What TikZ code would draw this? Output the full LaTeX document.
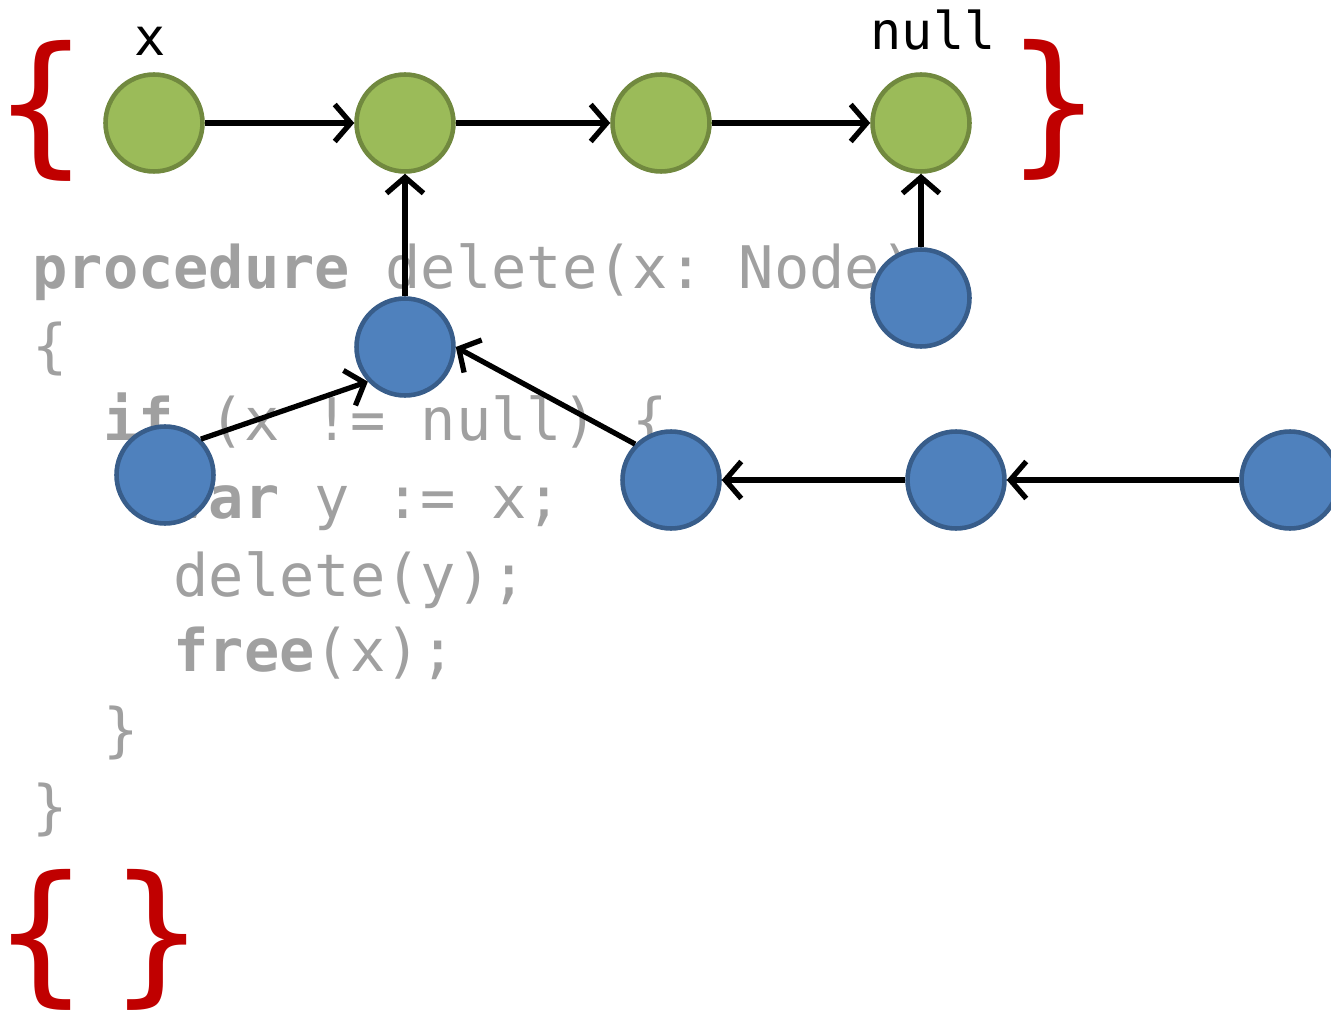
\documentclass[tikz,border=0pt]{standalone}
\usepackage{fontspec}
\setmonofont{DejaVu Sans Mono}
\newfontfamily\bracefont{DejaVu Sans}
\usetikzlibrary{arrows.meta}

\definecolor{codegray}{HTML}{A0A0A0}
\definecolor{bracered}{HTML}{C00000}
\definecolor{greenfill}{HTML}{9BBB59}
\definecolor{greenline}{HTML}{71893F}
\definecolor{bluefill}{HTML}{4F81BD}
\definecolor{blueline}{HTML}{385D8A}

\tikzset{
  codeline/.style={anchor=base west, inner sep=0, text=codegray,
    font=\ttfamily\fontsize{33.4}{40}\selectfont},
  label/.style={inner sep=0, anchor=base,
    font=\ttfamily\fontsize{29.5}{36}\selectfont},
  brace/.style={inner sep=0, text=bracered,
    font=\bracefont\fontsize{87}{95}\selectfont},
  gnode/.style={circle, draw=greenline, fill=greenfill, line width=2.6pt,
    minimum size=1.94cm, inner sep=0},
  bnode/.style={circle, draw=blueline, fill=bluefill, line width=2.6pt,
    minimum size=1.94cm, inner sep=0},
  link/.style={line width=3pt, -{Straight Barb[length=0.32cm,width=0.74cm]}}
}

\begin{document}
\begin{tikzpicture}[x=0.02cm, y=-0.02cm]
			\useasboundingbox (0,0) rectangle (1331,1013);
			
			% code in the background
			\node (l1) at (32,289) [codeline] {\textbf{procedure} delete(x: Node)};
			\node (l2) at (32,366) [codeline] {\{};
			\node (l3) at (32,440) [codeline] {\ \ \textbf{if} (x != null) \{};
			\node (l4) at (32,518) [codeline] {\ \ \ \ \textbf{var} y := x;};
			\node (l5) at (32,596) [codeline] {\ \ \ \ delete(y);};
			\node (l6) at (32,671) [codeline] {\ \ \ \ \textbf{free}(x);};
			\node (l7) at (32,750) [codeline] {\ \ \}};
			\node (l8) at (32,827) [codeline] {\}};
			
			% braces
			\node (bra1) at (41,111) [brace] {\{};
			\node (bra2) at (1054,110) [brace] {\}};
			\node (bra3) at (41,940) [brace] {\{};
			\node (bra4) at (157,940) [brace] {\}};
			
			% list in the braces
			\node (g1) at (154,123) [gnode] {};
			\node (g2) at (405,123) [gnode] {};
			\node (g3) at (661,123) [gnode] {};
			\node (g4) at (921,123) [gnode] {};
			\node (lx) at (150,56) [label] {x};
			\node (lnull) at (933,50) [label] {null};
			\draw[link] (g1)--(g2);
			\draw[link] (g2)--(g3);
			\draw[link] (g3)--(g4);
			
			% nodes still pointing in
			\node (b1) at (921,298) [bnode] {};
			\node (b2) at (405,347) [bnode] {};
			\node (b3) at (165,475) [bnode] {};
			\node (b4) at (671,480) [bnode] {};
			\node (b5) at (956,480) [bnode] {};
			\node (b6) at (1290,480) [bnode] {};
			\draw[link] (b1)--(g4);
			\draw[link] (b2)--(g2);
			\draw[link] (b3.45)--(b2.223);
			\draw[link] (b4.135)--(b2.east);
			\draw[link] (b5)--(b4);
			\draw[link] (b6)--(b5);
		\end{tikzpicture}
\end{document}
